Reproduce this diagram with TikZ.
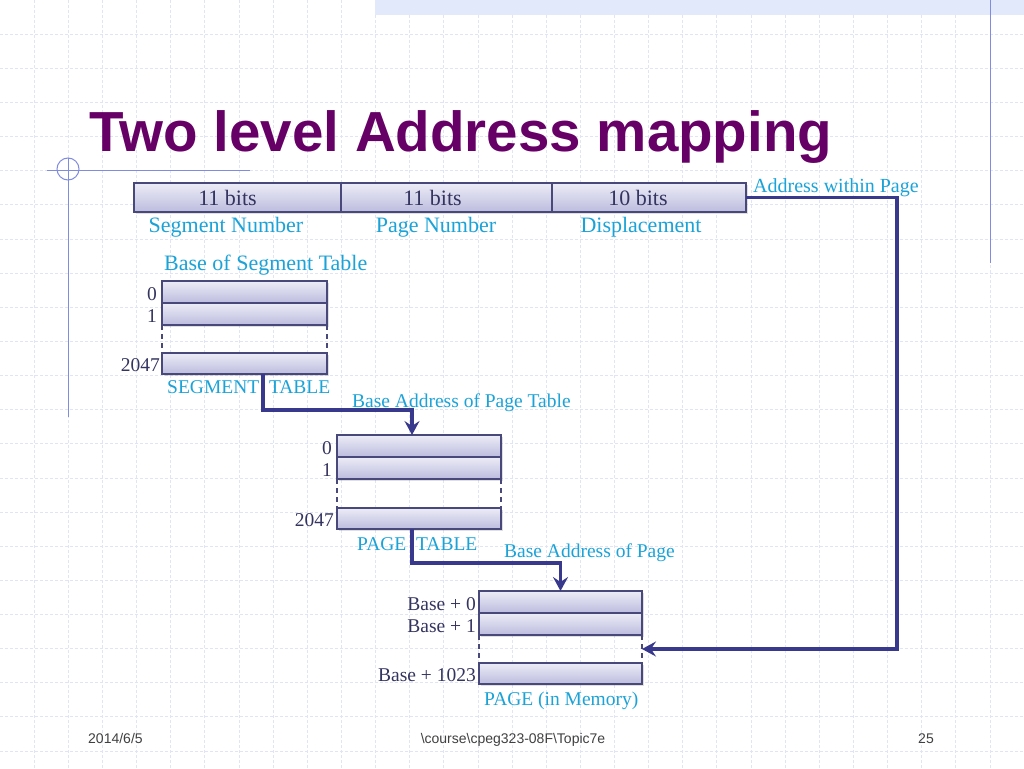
\documentclass[tikz,border=0pt]{standalone}
\usepackage{fontspec}
\setmainfont{Liberation Serif}
\newfontfamily\titlefont{Liberation Sans}
\usetikzlibrary{arrows.meta,positioning,shadows,calc}

\definecolor{titlepurple}{RGB}{102,0,102}
\definecolor{boxline}{RGB}{72,72,122}
\definecolor{celltop}{RGB}{236,236,247}
\definecolor{cellbot}{RGB}{188,188,222}
\definecolor{labelcyan}{RGB}{27,163,216}
\definecolor{navytext}{RGB}{52,52,96}
\definecolor{wirecol}{RGB}{56,56,140}
\definecolor{gridcol}{RGB}{224,228,244}
\definecolor{decocol}{RGB}{128,140,222}
\definecolor{bandcol}{RGB}{226,233,250}
\definecolor{footcol}{RGB}{64,64,64}

\begin{document}
\begin{tikzpicture}[x=1pt, y=-1pt,
  cell/.style={draw=boxline, line width=1.3pt, top color=celltop, bottom color=cellbot,
    minimum height=22pt, inner sep=0pt, outer sep=0pt,
    drop shadow={opacity=0.25, shadow xshift=1.5pt, shadow yshift=-1.5pt}},
  bits/.style={font=\fontsize{22}{24}\selectfont, text=navytext, inner sep=0pt},
  big/.style={font=\fontsize{22}{24}\selectfont, text=labelcyan, inner sep=0pt},
  small/.style={font=\fontsize{19.5}{22}\selectfont, text=labelcyan, inner sep=0pt},
  num/.style={font=\fontsize{19.5}{22}\selectfont, text=navytext, inner sep=2pt, yshift=-2pt},
  foot/.style={font=\titlefont\fontsize{14}{16}\selectfont, text=footcol, inner sep=0pt},
  wire/.style={draw=wirecol, line width=3.4pt},
  gap/.style={draw=boxline, line width=1.1pt, dash pattern=on 5pt off 4pt},
  >={Stealth[length=14pt,width=15pt,inset=5pt]}]

\useasboundingbox (0,0) rectangle (1024,768);
\fill[white] (0,0) rectangle (1024,768);

\foreach \k in {1,...,29}
  \draw[gridcol, line width=0.7pt, dash pattern=on 3pt off 2pt] ({\k*34.133},0) -- ({\k*34.133},768);
\foreach \k in {1,...,22}
  \draw[gridcol, line width=0.7pt, dash pattern=on 3pt off 2pt] (0,{\k*34.133}) -- (1024,{\k*34.133});

\fill[bandcol] (375,0) rectangle (1024,15);
\draw[decocol, line width=1pt] (47,170) -- (250,170);
\draw[decocol, line width=1pt] (68,158) -- (68,417);
\draw[decocol, line width=1pt] (68,169) circle (11);
\draw[decocol, line width=1pt] (990,0) -- (990,263);

\node[anchor=base west, inner sep=0pt, text=titlepurple,
  font=\titlefont\bfseries\fontsize{56.5}{60}\selectfont] (title) at (89,151) {Two level Address mapping};

\node[cell, minimum width=207pt, minimum height=29pt] (seg) at (237.5,197.5) {};
\node[cell, minimum width=211pt, minimum height=29pt] (pgn) at (446.5,197.5) {};
\node[cell, minimum width=194pt, minimum height=29pt] (disp) at (649,197.5) {};
\node[bits] (segbits) at ([xshift=-10pt]seg.center) {11 bits};
\node[bits] (pgnbits) at ([xshift=-14pt]pgn.center) {11 bits};
\node[bits] (dispbits) at ([xshift=-11pt]disp.center) {10 bits};

\node[big, anchor=base] (segname) at (226,232) {Segment Number};
\node[big, anchor=base] (pgnname) at (436,232) {Page Number};
\node[big, anchor=base] (dispname) at (641,232) {Displacement};
\node[small, anchor=base west, font=\fontsize{20}{22}\selectfont] (within) at (753,192) {Address within Page};

\node[big, anchor=base west] (segbase) at (164,270) {Base of Segment Table};
\node[cell, minimum width=165pt] (s0) at (244.5,292) {};
\node[cell, minimum width=165pt, below=0pt of s0] (s1) {};
\node[cell, minimum width=165pt, minimum height=21pt, below=28pt of s1] (s2) {};
\node[num, left=3pt of s0] (s0num) {0};
\node[num, left=3pt of s1] (s1num) {1};
\node[num, left=0pt of s2] (s2num) {2047};
\draw[gap] (s1.south west) -- (s2.north west);
\draw[gap] (s1.south east) -- (s2.north east);
\node[small, anchor=base west] (segtab) at (167,393) {SEGMENT\ \ TABLE};

\node[small, anchor=base west] (ptbase) at (352,407) {Base Address of Page Table};
\node[cell, minimum width=164pt] (p0) at (419,446) {};
\node[cell, minimum width=164pt, below=0pt of p0] (p1) {};
\node[cell, minimum width=164pt, minimum height=21pt, below=29pt of p1] (p2) {};
\node[num, left=3pt of p0] (p0num) {0};
\node[num, left=3pt of p1] (p1num) {1};
\node[num, left=1pt of p2] (p2num) {2047};
\draw[gap] (p1.south west) -- (p2.north west);
\draw[gap] (p1.south east) -- (p2.north east);
\node[small, anchor=base west] (pagetab) at (357,550) {PAGE\ \ TABLE};

\node[small, anchor=base west] (pgbase) at (504,557) {Base Address of Page};
\node[cell, minimum width=163pt] (m0) at (560.5,602) {};
\node[cell, minimum width=163pt, below=0pt of m0] (m1) {};
\node[cell, minimum width=163pt, minimum height=21pt, below=28pt of m1] (m2) {};
\node[num, left=1pt of m0] (m0num) {Base + 0};
\node[num, left=1pt of m1] (m1num) {Base + 1};
\node[num, left=1pt of m2] (m2num) {Base + 1023};
\draw[gap] (m1.south west) -- (m2.north west);
\draw[gap] (m1.south east) -- (m2.north east);
\node[small, anchor=base west] (inmem) at (484,705) {PAGE (in Memory)};

\coordinate (gapin) at ($(m1.south east)!0.5!(m2.north east)$);

\draw[wire,->] ([xshift=18.5pt]s2.south) -- ++(0,36) -| ([xshift=-7pt]p0.north);
\draw[wire,->] ([xshift=-7pt]p2.south) -- ++(0,34) -| (m0.north);
\draw[wire,->] (disp.east) -- ++(151,0) |- (gapin);

\node[foot, anchor=base west] (date) at (88,743) {2014/6/5};
\node[foot, anchor=base] (course) at (513,743) {\textbackslash course\textbackslash cpeg323-08F\textbackslash Topic7e};
\node[foot, anchor=base] (pagenum) at (926,743) {25};

\end{tikzpicture}
\end{document}
